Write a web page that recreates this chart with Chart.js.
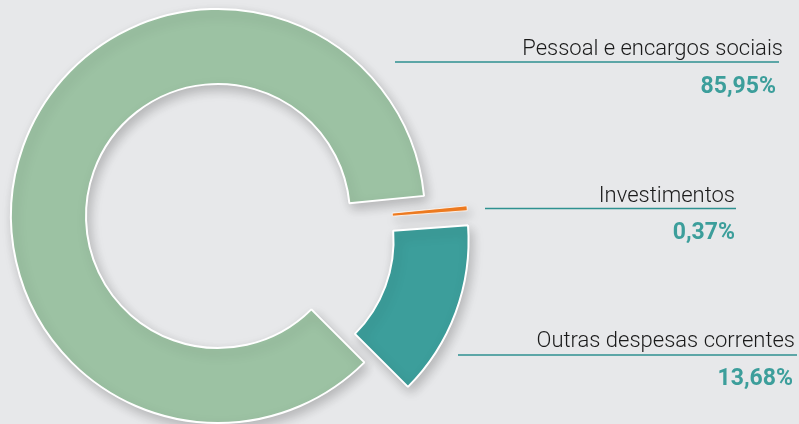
<!DOCTYPE html>
<html>
<head>
<meta charset="utf-8">
<script src="https://cdn.jsdelivr.net/npm/chart.js@4.4.1/dist/chart.umd.min.js"></script>
<style>
  html, body { margin: 0; padding: 0; background: #e7e8ea; }
  #wrap { position: relative; width: 799px; height: 424px; }
  canvas { display: block; }
</style>
</head>
<body>
<div id="wrap"><canvas id="c" width="799" height="424"></canvas></div>
<script>
// ---- data ----
const categories = ['Pessoal e encargos sociais', 'Investimentos', 'Outras despesas correntes'];
const shares = [85.95, 0.37, 13.68];
const sliceColors = ['#9cc2a3', '#f07c21', '#3c9e9b'];

// ---- styles (not data) ----
const sliceBorders = [2, 0.8, 2];
const explodeDistance = [0, 44, 50];   // px pulled out from centre
const explodeTilt = [0, 18, 9];        // degrees added to slice mid-angle

const labelLayout = [
  { textRight: 783, textBase: 55,  lineX1: 395, lineX2: 779, lineY: 62,  pctRight: 776, pctBase: 93 },
  { textRight: 735, textBase: 202, lineX1: 485, lineX2: 736, lineY: 208.5, pctRight: 735, pctBase: 238.5 },
  { textRight: 795, textBase: 347, lineX1: 458, lineX2: 797, lineY: 355, pctRight: 793, pctBase: 384.5 }
];

const fmtPct = v => v.toFixed(2).replace('.', ',') + '%';

const explodePlugin = {
  id: 'explode',
  afterUpdate(chart) {
    const meta = chart.getDatasetMeta(0);
    meta.data.forEach((el, i) => {
      const d = explodeDistance[i] || 0;
      if (!d) return;
      const mid = (el.startAngle + el.endAngle) / 2 + (explodeTilt[i] || 0) * Math.PI / 180;
      el.x += Math.cos(mid) * d;
      el.y += Math.sin(mid) * d;
    });
  }
};

const shadowPlugin = {
  id: 'softShadow',
  beforeDatasetsDraw(chart) {
    const ctx = chart.ctx;
    ctx.save();
    ctx.shadowColor = 'rgba(0,0,0,0.22)';
    ctx.shadowBlur = 12;
    ctx.shadowOffsetX = 3;
    ctx.shadowOffsetY = 5;
  },
  afterDatasetsDraw(chart) {
    chart.ctx.restore();
  }
};

const labelPlugin = {
  id: 'sideLabels',
  afterDraw(chart) {
    const ctx = chart.ctx;
    ctx.save();
    categories.forEach((name, i) => {
      const L = labelLayout[i];
      ctx.strokeStyle = '#2e9190';
      ctx.lineWidth = 1.5;
      ctx.beginPath();
      ctx.moveTo(L.lineX1, L.lineY);
      ctx.lineTo(L.lineX2, L.lineY);
      ctx.stroke();

      ctx.textAlign = 'right';
      ctx.textBaseline = 'alphabetic';
      ctx.fillStyle = '#1a1a1a';
      ctx.font = '300 22px Roboto';
      ctx.fillText(name, L.textRight, L.textBase);

      ctx.fillStyle = '#3c9e9b';
      ctx.font = 'bold 23px Roboto';
      ctx.fillText(fmtPct(shares[i]), L.pctRight, L.pctBase);
    });
    ctx.restore();
  }
};

new Chart(document.getElementById('c'), {
  type: 'doughnut',
  data: {
    labels: categories,
    datasets: [{
      data: shares,
      backgroundColor: sliceColors,
      borderColor: '#ffffff',
      borderWidth: sliceBorders,
      hoverOffset: 0
    }]
  },
  options: {
    responsive: false,
    animation: false,
    events: [],
    rotation: 135,
    radius: 207,
    cutout: '63.77%',
    layout: { padding: { left: 0, top: 8, right: 363, bottom: 0 } },
    plugins: {
      legend: { display: false },
      tooltip: { enabled: false }
    }
  },
  plugins: [explodePlugin, shadowPlugin, labelPlugin]
});
</script>
</body>
</html>
